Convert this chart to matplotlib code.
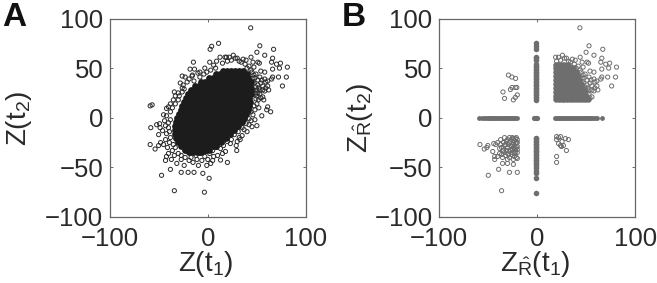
import matplotlib
matplotlib.use("Agg")
import matplotlib.pyplot as plt
import numpy as np

plt.rcParams["font.family"] = ["Liberation Sans", "DejaVu Sans"]
plt.rcParams["mathtext.fontset"] = "custom"
plt.rcParams["mathtext.rm"] = "Liberation Sans"
plt.rcParams["mathtext.it"] = "Liberation Sans"
plt.rcParams["mathtext.bf"] = "Liberation Sans:bold"
plt.rcParams["mathtext.default"] = "regular"

xlim = (-100, 100)
ylim = (-100, 100)
x_ticks = [-100, 0, 100]
y_ticks = [-100, -50, 0, 50, 100]

# Points (Z(t1), Z(t2))
outer_q1 = [(43.7,90.6),(53,72.5),(67,69),(50,66),(44,61),(58,63),(66,60),(65,56),(74,55),(70,54),
            (81,51),(73,50),(66,49),(58,46),(51,56),(52.5,55),(39,58),(80,41),(72,41),(66,41),
            (65,39),(76,32),(58,39),(54,47),(59,36),(61,37),(47,43),(51,38),(56,32),(61,32),
            (59,30),(56,28),(52,30),(51,25),(56,21),(47,28),(47,35),(26,63),(30,60),(22,61),
            (19,61),(34,56),(38,54),(42,52),(47,51),(44,48),(49,44),(53,41),(54,35),(49,31),
            (50,22),(53,24),(49,19),(58,27),(62,28),(55,38),(46,56),(28,60),(36,59),(20,57),
            (24,58),(32,57),(40,50),(45,46),(48,40),(51,33),(53,28),(54,20),(50,28),(46,40)]
a_outer = [(61,11),(64,6),(60,8),(57,18),(51.5,18),(46,3),(50,-8),(45,-9),(40,-14),(37,-12),
           (52,10),(55,2),(48,8),(50,14),(44,-3),(42,-7),(35,-18),(32,-20),(30,-24),(33,-22),
           (29,-28),(23,-26),(29.5,-33),(20,-45),(13,-42.6),(6,-39),(15,-36),(10,-38),(18,-34),
           (11,75),(4,72),(2.4,69),(-14.6,56),(-18,49),(-13.5,49),(-8,46),(2,56),(12.5,61),(17.6,61),
           (6,53),(-3,50),(-10,45),(-16,42),(-4,44),(9,57),(15,55),(-26,42),(-23,41),(-15.6,43),
           (-21,36),(-28,35),(-25,33),(-34,26),(-26,30),(-26,26),(-35,18),(-30,18),(-38,14),
           (-33,22),(-29,22),(-56.6,13),(-58.6,12),(-58,-10),(-58.6,-27),(-53.6,-31.5),(-50,-28),
           (-48,-25),(-52,-7),(-49,-6),(-48.5,-10),(-45,3),(-42,9.4),(-40,11),(-46,-13),(-50,-17),
           (-42,-16),(-43,-22),(-38,6),(-43,-43),(-42,-39),(-37,-42),(-31.5,-46),(-40,-5),(-44,-3),
           (-41,-30),(-45,-27),(-39,-25),(-36,-33),(-40,-36),(-34,-38),(-47,-58),(-38,-52),(-34,-73.5),
           (-27,-55),(-20,-55),(-14,-55),(-5,-56),(1.4,-61),(-3.4,-75),(-24,-48),(-9.5,-48),(-1,-48),
           (3,-46),(-15,-45),(-19,-43),(-27,-42),(-6,-43),(-11,-42),(0,-42),(5,-43),(-3,-39),(2,-36),
           (-36,10),(-33,14),(-30,25),(-24,29),(-19,39),(-14,37),(-8,41),(-1,46),(3,48),(8,50),
           (-42,2),(-38,-2),(-40,-10),(-43,-8),(-39,-14),(-38,-20),(-35,-27),(-33,-30),(-30,-36),(-27,-38),
           (-23,-40),(-17,-40),(-12,-38),(-8,-36),(-2,-34),(5,-33),(9,-30),(13,-31),(16,-28),(20,-24),
           (24,-22),(27,-17),(31,-14),(35,-10),(39,-6),(42,-1),(44,6),(48,-2),(47,12),(49,24)]

# Solid body of panel A: row height -> x positions
a_core_rows = {
    47: [16, 20, 24, 28, 32, 36],
    44: [8, 12, 16, 20, 24, 28, 32, 36, 40],
    40: [1, 5, 9, 13, 17, 21, 25, 29, 33, 37, 41],
    36: [-7, -3, 1, 5, 9, 13, 17, 21, 25, 29, 33, 37, 41, 44],
    32: [-13, -9, -5, -1, 3, 7, 11, 15, 19, 23, 27, 31, 35, 39, 43],
    28: [-17, -13, -9, -5, -1, 3, 7, 11, 15, 19, 23, 27, 31, 35, 39, 44],
    24: [-20, -16, -12, -8, -4, 0, 4, 8, 12, 16, 20, 24, 28, 32, 36, 40, 44],
    20: [-22, -18, -14, -10, -6, -2, 2, 6, 10, 14, 18, 22, 26, 30, 34, 38, 42],
    16: [-24, -20, -16, -12, -8, -4, 0, 4, 8, 12, 16, 20, 24, 28, 32, 36, 40, 43],
    12: [-26, -22, -18, -14, -10, -6, -2, 2, 6, 10, 14, 18, 22, 26, 30, 34, 38, 42],
    8: [-27, -23, -19, -15, -11, -7, -3, 1, 5, 9, 13, 17, 21, 25, 29, 33, 37, 41],
    4: [-29, -25, -21, -17, -13, -9, -5, -1, 3, 7, 11, 15, 19, 23, 27, 31, 35, 39],
    0: [-31, -27, -23, -19, -15, -11, -7, -3, 1, 5, 9, 13, 17, 21, 25, 29, 33, 37],
    -4: [-32, -28, -24, -20, -16, -12, -8, -4, 0, 4, 8, 12, 16, 20, 24, 28, 32, 35],
    -8: [-33, -29, -25, -21, -17, -13, -9, -5, -1, 3, 7, 11, 15, 19, 23, 27, 31],
    -12: [-33, -29, -25, -21, -17, -13, -9, -5, -1, 3, 7, 11, 15, 19, 23, 27],
    -16: [-33, -29, -25, -21, -17, -13, -9, -5, -1, 3, 7, 11, 15, 19, 23],
    -20: [-32, -28, -24, -20, -16, -12, -8, -4, 0, 4, 8, 12, 16, 19],
    -24: [-30, -26, -22, -18, -14, -10, -6, -2, 2, 6, 10, 13],
    -28: [-27, -23, -19, -15, -11, -7, -3, 1, 5, 8],
    -32: [-23, -19, -15, -11, -7, -3, 1],
    -35: [-19, -15, -11, -7],
}

# Panel B: points kept off the axes
b_q1_rows = {
    19: [19, 22, 25, 28, 31, 34, 37, 40, 43, 46, 49, 52],
    22: [19, 22, 25, 28, 31, 34, 37, 40, 43, 46, 49],
    26: [19, 22, 25, 28, 31, 34, 37, 40, 43, 46, 48],
    30: [19, 22, 25, 28, 31, 34, 37, 40, 43, 46],
    34: [19, 22, 25, 28, 31, 34, 37, 40, 43, 45],
    38: [19, 22, 25, 28, 31, 34, 37, 40, 43],
    42: [19, 22, 25, 28, 31, 34, 37, 40, 42],
    46: [19, 22, 25, 28, 31, 34, 37, 40],
    50: [19, 22, 25, 28, 31, 34, 37],
    53: [19, 22, 25, 28, 32],
}
b_q2 = [(-29,43),(-25.5,41),(-21.7,39.6),(-34.6,26),(-27,28.5),(-25.4,30.5),(-22,30.5),(-20.5,30.5),
        (-33,19.5),(-22,20.5),(-20,23),(-24,18)]
b_q4 = [(20,-19),(24,-19),(20,-22),(22,-26),(24,-28),(29,-21),(32,-22),(25.5,-24),(30,-33),(20,-39),
        (20,-45),(22,-20),(27,-28),(25,-29)]
b_q3 = [(-58,-27),(-53.6,-31.5),(-50,-28),(-51,-30),(-49.5,-58),(-39,-52),(-36,-73.5),(-28,-55),(-20,-55),
        (-24,-47),(-30,-46),(-35,-46),(-42,-27),(-44,-26),(-45,-34),(-43,-39),(-43,-42),(-40,-39),(-38,-36),
        (-40,-25),(-37,-22),(-36,-30),(-34,-25),(-34,-33),(-33,-20),(-32,-27),(-32,-38),(-30,-22),(-30,-30),
        (-30,-42),(-28,-20),(-28,-25),(-28,-34),(-28,-40),(-26,-22),(-26,-29),(-26,-37),(-25,-20),(-25,-32),
        (-24,-25),(-24,-42),(-23,-28),(-23,-36),(-22,-21),(-22,-32),(-21,-25),(-21,-40),(-20,-22),(-20,-29),
        (-20,-35),(-20,-41),(-35,-40),(-37,-27),(-33,-35),(-31,-24),(-29,-37),(-38,-31),(-36,-37),(-27,-24),
        (-27,-32),(-25,-27),(-25,-35),(-24,-21),(-24,-30),(-23,-23),(-23,-39),(-22,-26),(-22,-35),(-21,-30),
        (-21,-20),(-20,-25),(-20,-32),(-29,-27),(-31,-33),(-33,-28),(-35,-33)]
b_h_left = [-59, -56, -54, -52, -50, -49, -47.5, -46, -44.5, -43, -41.5, -40, -38.5, -37, -35.5, -34, -32.5, -31,
            -29.5, -28, -26.5, -25, -23.5, -22, -20.5]
b_h_right = [18, 19.5, 21, 22.5, 24, 25.5, 27, 28.5, 30, 31.5, 33, 34.5, 36, 37.5, 39, 40.5, 42, 43.5, 45, 46.5,
             48, 49.5, 51, 52.5, 54, 55.5, 57, 59, 61, 66]
b_v_up = [18, 19.5, 21, 22.5, 24, 25.5, 27, 28.5, 30, 31.5, 33, 34.5, 36, 37.5, 39, 40.5, 42, 43.5, 45, 46.5, 48,
          49.5, 51, 52.5, 54, 58, 60, 61, 69, 72, 75]
b_v_down = [-20, -21.5, -23, -24.5, -26, -27.5, -29, -30.5, -32, -33.5, -35, -36.5, -38, -39.5, -41, -42.5, -44,
            -45.5, -47, -49, -51, -54, -56, -61, -76]
b_center = [-2.5, -1, 0.5]


def pairs(points):
    arr = np.array(points, dtype=float)
    return arr[:, 0], arr[:, 1]


def rows(table):
    xs = [x for y, vals in table.items() for x in vals]
    ys = [y for y, vals in table.items() for x in vals]
    return np.array(xs, dtype=float), np.array(ys, dtype=float)


W, H = 657, 283
fig = plt.figure(figsize=(W / 100, H / 100), dpi=100)
ax_a = fig.add_axes([109.5 / W, (H - 217) / H, 196.5 / W, 198.5 / H])
ax_b = fig.add_axes([438.7 / W, (H - 217) / H, 196.5 / W, 198.5 / H])

for ax in (ax_a, ax_b):
    ax.set_xlim(*xlim)
    ax.set_ylim(*ylim)
    ax.set_xticks(x_ticks)
    ax.set_yticks(y_ticks)
    ax.tick_params(direction="in", length=2, width=0.6, color="#555555", labelsize=18.5,
                   labelcolor="#2a2a2a", top=True, right=True)
    ax.tick_params(axis="x", pad=7)
    ax.tick_params(axis="y", pad=4.5)
    for s in ax.spines.values():
        s.set_color("#666666")
        s.set_linewidth(0.9)

dark = "#1c1c1c"
gray = "#6e6e6e"
ms = 9
lw = 0.7

for pts in (outer_q1, a_outer):
    x, y = pairs(pts)
    ax_a.scatter(x, y, s=ms, facecolors="none", edgecolors="#2a2a2a", linewidths=lw)
x, y = rows(a_core_rows)
ax_a.scatter(x, y, s=24, color=dark, linewidths=0)

x, y = pairs(outer_q1)
ax_b.scatter(x, y, s=ms, facecolors="none", edgecolors=gray, linewidths=lw)
for pts in (b_q2, b_q3, b_q4):
    x, y = pairs(pts)
    ax_b.scatter(x, y, s=ms, facecolors="none", edgecolors=gray, linewidths=lw)
x, y = rows(b_q1_rows)
ax_b.scatter(x, y, s=22, color=gray, linewidths=0)
for vals in (b_h_left, b_h_right):
    v = np.array(vals, dtype=float)
    ax_b.scatter(v, np.full_like(v, -0.5), s=12, color=gray, linewidths=0)
for vals in (b_v_up, b_v_down):
    v = np.array(vals, dtype=float)
    ax_b.scatter(np.full_like(v, -0.5), v, s=16, color=gray, linewidths=0)
v = np.array(b_center, dtype=float)
ax_b.scatter(v, np.full_like(v, -0.5), s=14, color=gray, linewidths=0)


def ftext(px, py, s, **kw):
    return fig.text(px / W, 1 - py / H, s, color="#2a2a2a", **kw)


fig.text(14 / W, 1 - 18 / H, "A", fontsize=24, fontweight="bold", ha="center", va="center", color="#111111")
fig.text(354 / W, 1 - 18 / H, "B", fontsize=24, fontweight="bold", ha="center", va="center", color="#111111")
ftext(206, 264, r"Z(t$_{1}$)", fontsize=20, ha="center", va="center")
ftext(19, 118, r"Z(t$_{2}$)", fontsize=20, ha="center", va="center", rotation=90)
hat = r"$_{\hat{\mathrm{R}}}$"
ftext(535, 264, "Z" + hat + r"(t$_{1}$)", fontsize=20, ha="center", va="center")
ftext(360, 118, "Z" + hat + r"(t$_{2}$)", fontsize=20, ha="center", va="center", rotation=90)

fig.savefig("out.png", dpi=100)
